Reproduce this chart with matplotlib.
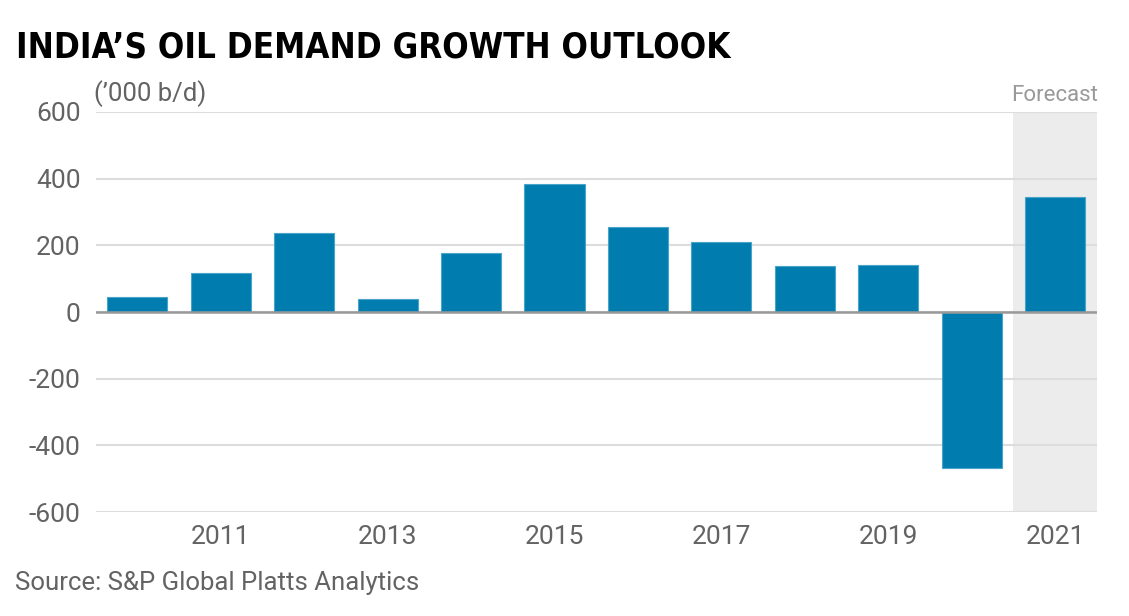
import matplotlib.pyplot as plt
import numpy as np

# Data ('000 b/d)
years = ['2010', '2011', '2012', '2013', '2014', '2015',
         '2016', '2017', '2018', '2019', '2020', '2021']
growth = [45, 118, 237, 40, 178, 384, 254, 209, 138, 142, -469, 346]
tick_years = ['2011', '2013', '2015', '2017', '2019', '2021']
yticks = [-600, -400, -200, 0, 200, 400, 600]

bar_color = '#007DAE'
text_gray = '#636363'

fig = plt.figure(figsize=(11.29, 6.16), dpi=100)
ax = fig.add_axes([0.0848, 0.1688, 0.8866, 0.6494])

x = np.arange(len(years))

# Forecast shading behind the last year
ax.axvspan(x[-1] - 0.5, x[-1] + 0.5, color='#ececec', zorder=0, lw=0)

ax.bar(x, growth, width=0.72, color=bar_color, edgecolor='#4aa3c8',
       linewidth=0.8, zorder=3)

ax.set_xlim(-0.5, len(years) - 0.5)
ax.set_ylim(-600, 600)
ax.set_yticks(yticks)
ax.set_yticklabels([str(v) for v in yticks])
ax.set_xticks([years.index(y) for y in tick_years])
ax.set_xticklabels(tick_years)

ax.grid(axis='y', color='#dddddd', linewidth=1.5, zorder=1)
ax.axhline(0, color='#999999', linewidth=1.8, zorder=4)
ax.set_axisbelow(True)

for s in ax.spines.values():
    s.set_visible(False)
ax.tick_params(length=0, labelsize=19, labelcolor=text_gray)
ax.tick_params(axis='y', pad=11)
ax.tick_params(axis='x', pad=9)
for lab in ax.get_xticklabels() + ax.get_yticklabels():
    lab.set_fontfamily('Roboto')

fig.text(0.014, 0.923, 'INDIA\u2019S OIL DEMAND GROWTH OUTLOOK',
         fontsize=25, fontweight='bold', fontstretch='condensed',
         family=['Liberation Sans Narrow', 'DejaVu Sans'],
         color='black', va='center', ha='left')
fig.text(0.083, 0.848, '(\u2019000 b/d)', fontsize=18.5, color=text_gray,
         family='Roboto', va='center', ha='left')
fig.text(0.9725, 0.845, 'Forecast', fontsize=16, color='#999999',
         family='Roboto', va='center', ha='right')
fig.text(0.013, 0.053, 'Source: S&P Global Platts Analytics', fontsize=18.5,
         color=text_gray, family='Roboto', va='center', ha='left')

fig.savefig('out.png', dpi=100, facecolor='white')
